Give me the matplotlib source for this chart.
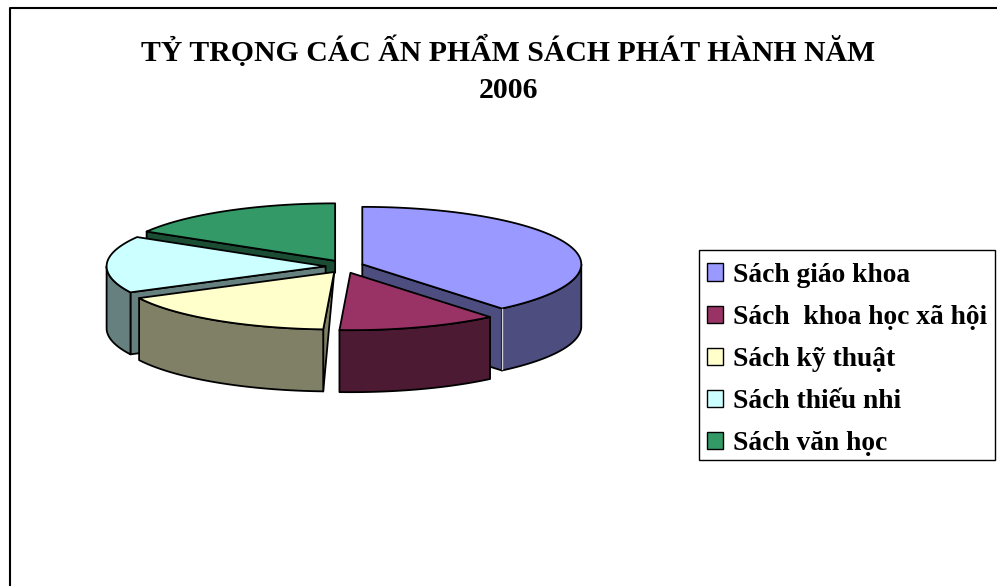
import numpy as np
import matplotlib
matplotlib.use('Agg')
import matplotlib.pyplot as plt
from matplotlib.patches import Patch, Rectangle

title = 'TỶ TRỌNG CÁC ẤN PHẨM SÁCH PHÁT HÀNH NĂM\n2006'
labels = ['Sách giáo khoa', 'Sách  khoa học xã hội', 'Sách kỹ thuật', 'Sách thiếu nhi', 'Sách văn học']
values = [39.0, 11.8, 16.7, 16.0, 16.5]
top_colors = ['#9999FF', '#993366', '#FFFFCC', '#CCFFFF', '#339966']
side_colors = ['#4D4D80', '#4D1A33', '#808066', '#668080', '#1A4D33']

# pie geometry in pixels
cx, cy = 344.5, 266.5
rx, ry = 219, 57.4
ex, ey = 18.9, 6.6
depth = 62

plt.rcParams['font.family'] = ['Liberation Serif', 'DejaVu Serif']
fig = plt.figure(figsize=(9.97, 5.86), dpi=100)
ax = fig.add_axes([0, 0, 1, 1])
ax.set_xlim(0, 997)
ax.set_ylim(586, 0)
ax.axis('off')


def rim(a0, a1, x0, y0):
  t = np.radians(np.linspace(a0, a1, max(int(a1 - a0) * 2, 2)))
  return x0 + rx * np.sin(t), y0 - ry * np.cos(t)


edges = np.concatenate([[0], np.cumsum(values)]) * 360.0 / sum(values)

# back to front: green, blue, cyan, yellow, maroon
for i in [4, 0, 3, 2, 1]:
  a0, a1 = edges[i], edges[i + 1]
  mid = np.radians((a0 + a1) / 2)
  x0 = cx + ex * np.sin(mid)
  y0 = cy - ey * np.cos(mid)
  style = dict(edgecolor='black', linewidth=1.3, joinstyle='round')

  # cut faces, only those turned to the viewer
  visible = []
  if 180 < a0 < 360:
    visible.append(a0)
  if 0 < a1 < 180:
    visible.append(a1)
  for a in visible:
    xe = x0 + rx * np.sin(np.radians(a))
    ye = y0 - ry * np.cos(np.radians(a))
    # back slice: the rest of its face is hidden by the slices in front
    inner = 12 if a > 270 else depth
    if abs(xe - x0) < 20:
      # nearly edge-on, the reference shows it as a plain wedge
      ax.fill([x0, xe, xe], [y0, ye, ye + depth], facecolor=side_colors[i], **style)
    else:
      ax.fill([x0, xe, xe, x0], [y0, ye, ye + depth, y0 + inner], facecolor=side_colors[i], **style)

  # outer wall, front half only
  w0, w1 = max(a0, 90), min(a1, 270)
  if w1 > w0:
    xs, ys = rim(w0, w1, x0, y0)
    ax.fill(np.r_[xs, xs[::-1]], np.r_[ys, ys[::-1] + depth], facecolor=side_colors[i], **style)
    if i == 0:
      # light seam between the wall and the cut face
      ax.plot([xs[-1], xs[-1]], [ys[-1] + 1, ys[-1] + depth - 1], color='#D0D0D0', linewidth=1)

  # top
  xs, ys = rim(a0, a1, x0, y0)
  ax.fill(np.r_[x0, xs], np.r_[y0, ys], facecolor=top_colors[i], **style)

ax.text(508.5, 69.5, title, ha='center', va='center', fontsize=21.4, fontweight='bold', linespacing=1.5)

# outer frame
ax.plot([9.5, 9.5, 997], [586, 8, 8], color='black', linewidth=1.5, clip_on=False)

# legend box drawn apart, the rows sit low inside it
ax.add_patch(Rectangle((698.5, 249.5), 296.5, 210, facecolor='white', edgecolor='black', linewidth=1, zorder=4))
handles = [Patch(facecolor=c, edgecolor='black', linewidth=1) for c in top_colors]
leg = ax.legend(handles, labels, loc='upper left', bbox_to_anchor=(699, 254.5), bbox_transform=ax.transData,
  prop={'family': 'Liberation Serif', 'weight': 'bold', 'size': 19.8}, frameon=False,
  borderaxespad=0, borderpad=0.3, handlelength=0.58, handleheight=0.58,
  handletextpad=0.36, labelspacing=0.62)
leg.set_zorder(5)

fig.savefig('out.png', dpi=100)
